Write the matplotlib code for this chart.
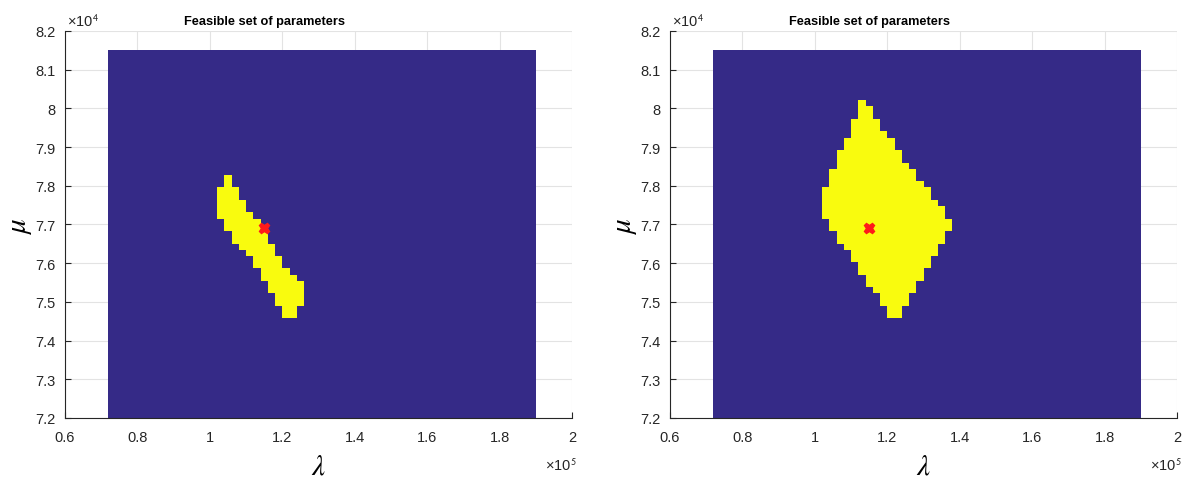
import numpy as np
import matplotlib
matplotlib.use("Agg")
import matplotlib.pyplot as plt
from matplotlib.colors import ListedColormap
from matplotlib.ticker import FuncFormatter

# parameter grid (60 points each way -> 59x59 cells)
lam_edges = np.linspace(72000, 190000, 60)
mu_edges = np.linspace(72000, 81500, 60)

# nominal point
lam0 = 115000
mu0 = 76900

# feasible cells: column index, lowest and highest feasible row index
left_cols = list(range(15, 27))
left_lo = [32, 30, 28, 27, 26, 24, 22, 20, 18, 16, 16, 18]
left_hi = [36, 38, 36, 34, 32, 31, 29, 27, 25, 23, 22, 21]

right_cols = list(range(15, 33))
right_lo = [32, 30, 28, 27, 25, 23, 21, 20, 18, 16, 16, 18, 20, 22, 24, 26, 28, 30]
right_hi = [36, 39, 42, 44, 47, 50, 49, 47, 45, 44, 42, 40, 39, 37, 36, 34, 33, 31]

x_ticks = [60000, 80000, 100000, 120000, 140000, 160000, 180000, 200000]
y_ticks = [72000, 73000, 74000, 75000, 76000, 77000, 78000, 79000, 80000, 81000, 82000]

blue = '#352a87'
yellow = '#f9fb0e'
cmap = ListedColormap([blue, yellow])

plt.rcParams['font.family'] = ['Liberation Sans', 'DejaVu Sans']
plt.rcParams['mathtext.fontset'] = 'stix'


def build_mask(cols, lo, hi):
    m = np.zeros((len(mu_edges) - 1, len(lam_edges) - 1))
    for c, a, b in zip(cols, lo, hi):
        m[a:b + 1, c] = 1
    return m


fig = plt.figure(figsize=(11.85, 4.85), dpi=100)
ax1 = fig.add_axes([65 / 1185, 66 / 485, 507 / 1185, 387 / 485])
ax2 = fig.add_axes([670 / 1185, 66 / 485, 507 / 1185, 387 / 485])

for ax, cols, lo, hi in [(ax1, left_cols, left_lo, left_hi), (ax2, right_cols, right_lo, right_hi)]:
    mask = build_mask(cols, lo, hi)
    ax.pcolormesh(lam_edges, mu_edges, mask, cmap=cmap, vmin=0, vmax=1, shading='flat')
    ax.plot(lam0, mu0, 'X', color='#ff1a1a', ms=7.5, mec='#ff1a1a', zorder=5)

    ax.set_xlim(60000, 200000)
    ax.set_ylim(72000, 82000)
    ax.set_xticks(x_ticks)
    ax.set_yticks(y_ticks)
    ax.xaxis.set_major_formatter(FuncFormatter(lambda v, p: f'{v / 1e5:g}'))
    ax.yaxis.set_major_formatter(FuncFormatter(lambda v, p: f'{v / 1e4:g}'))
    ax.tick_params(direction='in', length=4, width=0.8, colors='#262626',
                   labelsize=10.5, pad=7)
    ax.tick_params(axis='x', pad=9)
    ax.set_axisbelow(True)
    ax.grid(True, color='#e3e3e3', linewidth=0.8)
    ax.spines['top'].set_visible(False)
    ax.spines['right'].set_visible(False)
    for s in ['left', 'bottom']:
        ax.spines[s].set_color('#262626')
        ax.spines[s].set_linewidth(0.8)

    ax.set_title('Feasible set of parameters', fontsize=9.2, fontweight='bold',
                 x=0.394, pad=5)
    ax.set_xlabel(r'$\lambda$', fontsize=21, labelpad=5)
    ax.set_ylabel(r'$\mu$', fontsize=21, labelpad=1)
    ax.text(0.003, 1.006, r'×10$^{\mathsf{4}}$', transform=ax.transAxes, fontsize=10.5,
            color='#262626', ha='left', va='bottom')
    ax.text(1.01, -0.1, r'×10$^{\mathsf{5}}$', transform=ax.transAxes, fontsize=10.5,
            color='#262626', ha='right', va='top')

fig.savefig('out.png', dpi=100)
